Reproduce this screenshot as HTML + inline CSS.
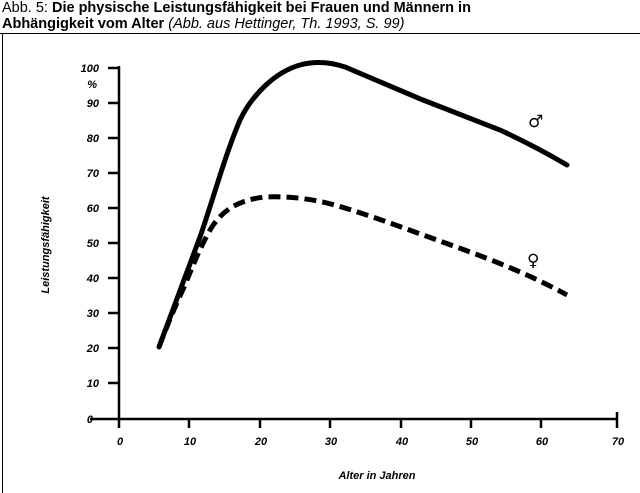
<!DOCTYPE html>
<html><head><meta charset="utf-8"><style>
body{margin:0;width:640px;height:493px;background:#fff;overflow:hidden;font-family:"Liberation Sans",sans-serif}
.t{position:absolute;left:2px;font-size:14.5px;line-height:16px;color:#000;white-space:nowrap}
</style></head><body>
<div class="t" style="top:0">Abb. 5: <b>Die physische Leistungsfähigkeit bei Frauen und Männern in</b></div>
<div class="t" style="top:16px"><b>Abhängigkeit vom Alter</b> <i>(Abb. aus Hettinger, Th. 1993, S. 99)</i></div>
<svg width="640" height="493" style="position:absolute;left:0;top:0">
<line x1="0" y1="33.5" x2="640" y2="33.5" stroke="#000" stroke-width="1"/>
<line x1="2.5" y1="33" x2="2.5" y2="493" stroke="#000" stroke-width="1"/>
<g stroke="#000" stroke-width="2.5" fill="none">
<line x1="119" y1="66" x2="119" y2="420"/>
<line x1="90" y1="419" x2="617" y2="419"/>
<line x1="108" y1="68" x2="119" y2="68"/>
<line x1="108" y1="103" x2="119" y2="103"/>
<line x1="108" y1="138" x2="119" y2="138"/>
<line x1="108" y1="173" x2="119" y2="173"/>
<line x1="108" y1="208" x2="119" y2="208"/>
<line x1="108" y1="243" x2="119" y2="243"/>
<line x1="108" y1="278" x2="119" y2="278"/>
<line x1="108" y1="313" x2="119" y2="313"/>
<line x1="108" y1="348" x2="119" y2="348"/>
<line x1="108" y1="383" x2="119" y2="383"/>
<line x1="189" y1="419" x2="189" y2="428"/>
<line x1="260" y1="419" x2="260" y2="428"/>
<line x1="330" y1="419" x2="330" y2="428"/>
<line x1="401" y1="419" x2="401" y2="428"/>
<line x1="471" y1="419" x2="471" y2="428"/>
<line x1="541" y1="419" x2="541" y2="428"/>
<line x1="617" y1="412" x2="617" y2="428"/>
<line x1="119" y1="419" x2="119" y2="428"/>
</g>
<g font-family="Liberation Sans" font-weight="bold" font-style="italic" font-size="11" text-anchor="end">
<text x="99" y="72">100</text><text x="97" y="88">%</text>
<text x="99" y="107">90</text><text x="99" y="142">80</text><text x="99" y="177">70</text>
<text x="99" y="212">60</text><text x="99" y="247">50</text><text x="99" y="282">40</text>
<text x="99" y="317">30</text><text x="99" y="352">20</text><text x="99" y="387">10</text>
<text x="93" y="423">0</text>
</g>
<g font-family="Liberation Sans" font-weight="bold" font-style="italic" font-size="11" text-anchor="middle">
<text x="120" y="445">0</text><text x="190" y="445">10</text><text x="261" y="445">20</text>
<text x="331" y="445">30</text><text x="402" y="445">40</text><text x="472" y="445">50</text>
<text x="542" y="445">60</text><text x="618" y="445">70</text>
<text x="377" y="479">Alter in Jahren</text>
<text transform="translate(49,245) rotate(-90)">Leistungsfähigkeit</text>
</g>
<path d="M159,347 L200,237 C212,203 225,155 240,120 C252,95 275,72 300,65 C315,61 330,62 345,67 L423,100 L500,130 C530,144 550,155 567,165" stroke="#000" stroke-width="5" fill="none" stroke-linecap="round"/>
<path d="M159,347 C170,318 178,300 185,285 C193,265 200,248 210,230 C222,210 238,200 265,197 C290,196 310,199 327,203 C350,209 370,216 390,223 L473,253 C510,267 540,280 567,295" stroke="#000" stroke-width="5" fill="none" stroke-dasharray="12,6"/>
<text x="528" y="127" font-family="DejaVu Sans" font-size="17" font-weight="bold">♂</text>
<text x="527" y="266" font-family="DejaVu Sans" font-size="17" font-weight="bold">♀</text>
</svg>
</body></html>
